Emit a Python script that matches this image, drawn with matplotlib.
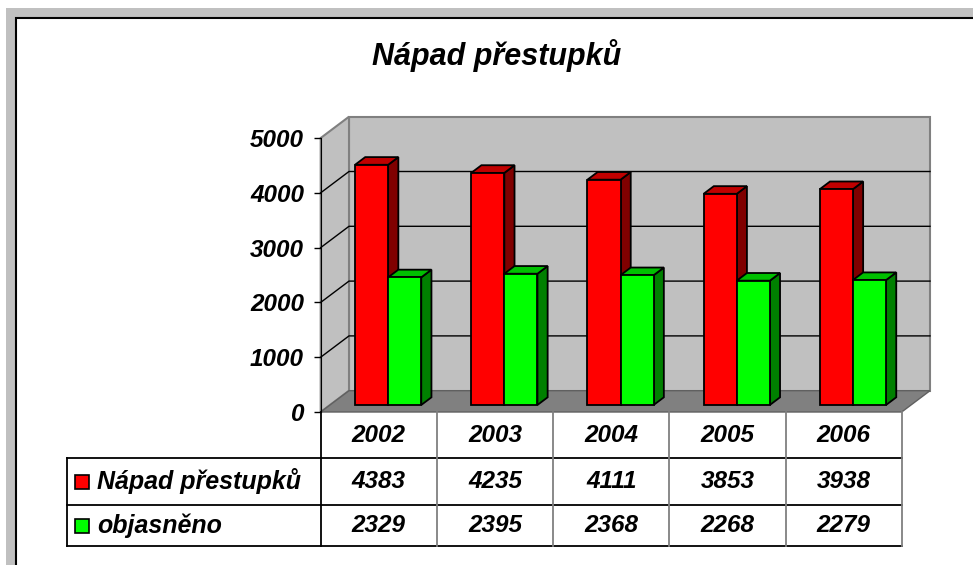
import matplotlib.pyplot as plt
import matplotlib.transforms as mtransforms
from matplotlib.patches import Polygon, Rectangle
from matplotlib.lines import Line2D

# data
years = ['2002', '2003', '2004', '2005', '2006']
napad = [4383, 4235, 4111, 3853, 3938]
objasneno = [2329, 2395, 2368, 2268, 2279]
series_names = ['Nápad přestupků', 'objasněno']
title = 'Nápad přestupků'

plt.rcParams['font.family'] = ['Liberation Sans', 'DejaVu Sans']
plt.rcParams['font.weight'] = 'bold'
plt.rcParams['font.style'] = 'italic'

W, H = 973, 565
fig = plt.figure(figsize=(W / 100, H / 100), dpi=100)
fig.patch.set_facecolor('white')


def px(x, y):
    # pixel (top-left origin) -> figure fraction
    return x / W, 1 - y / H


# outer frame: grey band, then white panel with black edge
fig.add_artist(Rectangle(px(6, 570), 980 / W, 562 / H, transform=fig.transFigure,
                         facecolor='#c0c0c0', edgecolor='none', zorder=-3))
fig.add_artist(Rectangle(px(16, 580), 990 / W, 562 / H, transform=fig.transFigure,
                         facecolor='white', edgecolor='black', linewidth=1.5, zorder=-2))

fig.text(*px(497, 65), title, ha='center', va='baseline', fontsize=22,
         fontweight='bold', fontstyle='italic')

# axes = front plane of the 3d chart
x0, x1 = 320.7, 901.7
y0, y5000 = 412, 138
ax = fig.add_axes([x0 / W, 1 - y0 / H, (x1 - x0) / W, (y0 - y5000) / H])
ax.set_xlim(-0.5, 4.5)
ax.set_ylim(0, 5000)
ax.patch.set_visible(False)
for s in ['top', 'right', 'bottom']:
    ax.spines[s].set_visible(False)
ax.spines['left'].set_zorder(5)
ax.set_xticks([])
ax.set_yticks(range(0, 5001, 1000))
ax.tick_params(axis='y', length=5, width=1, pad=7, labelsize=17.5)

# depth offsets in data units
DX = 28.3 / ((x1 - x0) / 5)
DY = 21.3 / ((y0 - y5000) / 5000)
xa, xb = -0.5, 4.5
top = 5000

wall = '#c0c0c0'
edge = '#808080'
ax.add_patch(Polygon([(xa + DX, DY), (xb + DX, DY), (xb + DX, top + DY), (xa + DX, top + DY)],
                     closed=True, facecolor=wall, edgecolor=edge, lw=1.5, clip_on=False, zorder=1))
ax.add_patch(Polygon([(xa, 0), (xa + DX, DY), (xa + DX, top + DY), (xa, top)],
                     closed=True, facecolor=wall, edgecolor=edge, lw=1.5, clip_on=False, zorder=1))
ax.add_patch(Polygon([(xa, 0), (xb, 0), (xb + DX, DY), (xa + DX, DY)],
                     closed=True, facecolor='#808080', edgecolor='#606060', lw=1, clip_on=False, zorder=1.5))

for v in range(1000, 5000, 1000):
    ax.plot([xa, xa + DX, xb + DX], [v, v + DY, v + DY], color='black', lw=1,
            clip_on=False, zorder=2)

# bars
d0, d1 = 0.33, 0.69
half = 0.285
bw = half
colors = [('#ff0000', '#c00000', '#800000'), ('#00ff00', '#00c000', '#008000')]


def bar3d(xl, val, cols):
    ox, oy = DX * d0, DY * d0
    tx, ty = DX * (d1 - d0), DY * (d1 - d0)
    xl = xl + ox
    xr = xl + bw
    front = [(xl, oy), (xr, oy), (xr, oy + val), (xl, oy + val)]
    side = [(xr, oy), (xr + tx, oy + ty), (xr + tx, oy + val + ty), (xr, oy + val)]
    topf = [(xl, oy + val), (xr, oy + val), (xr + tx, oy + val + ty), (xl + tx, oy + val + ty)]
    for pts, c in [(side, cols[2]), (topf, cols[1]), (front, cols[0])]:
        ax.add_patch(Polygon(pts, closed=True, facecolor=c, edgecolor='black',
                             lw=1.3, clip_on=False, zorder=3, joinstyle='miter'))


for i in range(len(years)):
    for k, vals in enumerate([napad, objasneno]):
        bar3d(i - half + k * bw, vals[i], colors[k])

# data table
bt = mtransforms.blended_transform_factory(ax.transData, ax.transAxes)
ah = y0 - y5000


def fy(ypx):
    return (y0 - ypx) / ah


xw = (x1 - x0) / 5
xleg = -0.5 + (66.7 - x0) / xw
rows = [412, 458, 505, 546]


def line(xs, ys, c='black'):
    ax.add_line(Line2D(xs, ys, transform=bt, color=c, lw=1.3, clip_on=False, zorder=4))


for r in rows[1:]:
    line([xleg, xb], [fy(r), fy(r)])
line([xleg, xleg], [fy(rows[1]), fy(rows[3])])
line([xa, xa], [fy(rows[0]), fy(rows[3])])
for j in range(1, 6):
    line([xa + j, xa + j], [fy(rows[0]), fy(rows[3])], c='#808080')

for i, yr in enumerate(years):
    ax.text(i, fy((rows[0] + rows[1]) / 2), yr, transform=bt, ha='center', va='center',
            fontsize=17.5)
    for k, vals in enumerate([napad, objasneno]):
        ax.text(i, fy((rows[k + 1] + rows[k + 2]) / 2), str(vals[i]), transform=bt,
                ha='center', va='center', fontsize=17.5)

sq = 14
for k, name in enumerate(series_names):
    yc = (rows[k + 1] + rows[k + 2]) / 2
    ax.add_patch(Rectangle((-0.5 + (74.5 - x0) / xw, fy(yc + sq / 2)), sq / xw, sq / ah,
                           transform=bt, facecolor=colors[k][0], edgecolor='black',
                           lw=1.2, clip_on=False, zorder=4))
    ax.text(-0.5 + (97 - x0) / xw, fy(yc), name, transform=bt, ha='left', va='center',
            fontsize=18)

fig.savefig('out.png', dpi=100)
